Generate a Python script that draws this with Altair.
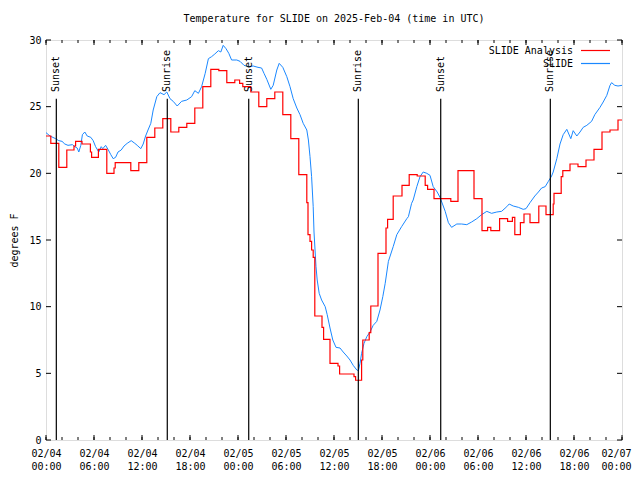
import altair as alt
import pandas as pd

MONO = "DejaVu Sans Mono"

# ---- data (hours since 2025-02-04 00:00 UTC) ----
red_hours = [0.0, 0.6, 1.6, 2.6, 3.5, 3.7, 4.5, 5.55, 5.7, 6.55, 7.6, 8.5, 8.65, 10.6, 11.6,
             12.6, 13.6, 14.6, 15.6, 16.6, 17.6, 18.6, 19.6, 20.6, 21.6, 22.6, 23.6, 24.2, 24.6,
             25.6, 26.6, 27.6, 28.6, 29.6, 30.6, 31.6, 32.6, 32.75, 33.0, 33.2, 33.4, 33.6, 34.5,
             34.7, 35.5, 36.5, 36.7, 38.5, 38.7, 39.45, 39.6, 40.4, 40.6, 41.5, 42.5, 42.7, 43.4,
             44.5, 45.4, 46.4, 47.4, 47.7, 48.5, 50.6, 51.5, 53.5, 54.5, 55.2, 55.6, 56.7, 57.7,
             58.3, 58.6, 59.3, 59.75, 60.5, 61.6, 62.5, 63.4, 63.5, 64.4, 64.6, 65.5, 66.5, 67.5,
             68.5, 69.5, 70.5, 71.5, 72.0]
red_temps = [22.8, 22.25, 20.45, 21.75, 22.05, 22.4, 22.2, 21.6, 21.2, 21.8, 20.0, 20.4, 20.8, 20.2, 20.8,
             22.7, 23.4, 24.1, 23.1, 23.45, 23.75, 24.9, 26.5, 27.8, 27.7, 26.8, 27.0, 26.75, 26.5,
             26.1, 25.0, 25.6, 26.1, 24.4, 22.6, 19.9, 17.8, 15.4, 14.9, 14.25, 13.7, 9.3, 8.45,
             7.55, 5.75, 5.55, 4.95, 4.75, 4.48, 6.0, 7.5, 8.05, 10.05, 14.0, 15.9, 16.55, 18.3,
             19.1, 19.9, 19.8, 19.1, 18.8, 18.1, 17.9, 20.2, 18.1, 15.7, 15.95, 15.7, 16.6, 16.4,
             16.7, 15.4, 16.3, 16.95, 16.3, 17.55, 16.9, 17.7, 18.5, 19.75, 20.2, 20.7, 20.5, 21.0,
             21.8, 23.1, 23.25, 24.0, 24.0]

blue_hours = [0.0, 0.5, 1.2, 1.6, 2.0, 2.35, 2.75, 3.3, 3.6, 3.9, 4.1, 4.35, 4.55, 4.85, 5.15, 5.6,
              5.9, 6.2, 6.6, 6.9, 7.1, 7.45, 7.75, 8.1, 8.4, 8.7, 9.0, 9.4, 9.75, 10.15, 10.65, 11.1,
              11.4, 11.85, 12.15, 12.45, 12.75, 13.1, 13.4, 13.85, 14.25, 14.75, 15.1, 15.5, 15.9,
              16.4, 16.95, 17.6, 18.2, 18.6, 19.05, 19.45, 19.9, 20.3, 20.7, 21.1, 21.55, 21.85,
              22.15, 22.5, 22.85, 23.2, 23.85, 24.25, 24.75, 25.3, 25.9, 26.5, 26.95, 27.25, 27.6,
              28.1, 28.4, 28.85, 29.15, 29.6, 30.1, 30.5, 30.9, 31.35, 31.75, 32.15, 32.6, 32.8,
              33.0, 33.2, 33.4, 33.5, 33.75, 33.9, 34.15, 34.45, 34.9, 35.15, 35.5, 35.85, 36.25,
              36.75, 37.15, 37.6, 38.0, 38.4, 38.85, 39.05, 39.25, 39.45, 39.75, 40.1, 40.5, 40.9,
              41.35, 41.75, 42.1, 42.4, 42.8, 43.4, 43.85, 44.45, 45.1, 45.3, 45.7, 45.9, 46.35,
              46.75, 47.15, 47.6, 48.0, 48.4, 48.9, 49.25, 49.9, 50.3, 50.7, 51.35, 51.95, 52.6,
              53.2, 53.85, 54.45, 55.1, 55.7, 56.35, 56.95, 57.6, 57.9, 58.4, 59.05, 59.65, 60.0,
              60.5, 61.1, 61.55, 61.95, 62.4, 62.8, 63.2, 63.4, 63.85, 64.25, 64.65, 65.1, 65.6,
              65.9, 66.35, 66.75, 67.15, 67.6, 68.2, 68.6, 69.25, 69.65, 70.1, 70.5, 70.7, 71.1,
              71.5, 72.0]
blue_temps = [23.05, 22.8, 22.6, 22.45, 22.4, 22.2, 22.1, 22.15, 22.0, 21.9, 21.6, 22.1, 22.9, 23.1,
              22.8, 22.7, 22.45, 22.0, 21.6, 22.0, 21.85, 22.1, 21.8, 21.4, 21.1, 21.2, 21.6, 21.75,
              22.05, 22.25, 22.45, 22.25, 22.1, 21.85, 22.2, 22.8, 23.25, 23.75, 24.75, 25.75, 26.05,
              25.9, 26.1, 25.6, 25.4, 25.05, 25.4, 25.5, 25.75, 26.2, 26.0, 26.5, 27.5, 28.6, 28.75,
              28.95, 29.2, 29.1, 29.6, 29.35, 29.0, 28.5, 28.5, 28.4, 28.1, 28.0, 28.05, 27.95, 27.9,
              27.5, 27.05, 26.3, 26.6, 27.75, 28.25, 27.95, 27.25, 26.5, 25.6, 24.9, 24.4, 23.75,
              23.25, 22.5, 21.25, 19.75, 17.5, 15.6, 13.0, 12.0, 11.0, 10.5, 10.0, 9.4, 8.4, 7.5,
              6.95, 6.9, 6.6, 6.3, 6.0, 5.6, 5.25, 5.2, 5.75, 6.5, 7.25, 7.75, 8.1, 8.6, 8.9, 9.75,
              10.75, 11.75, 13.4, 14.5, 15.4, 16.0, 16.6, 16.75, 17.75, 18.0, 19.0, 19.75, 20.1,
              20.0, 19.85, 19.0, 18.6, 18.2, 17.15, 16.3, 15.95, 16.2, 16.2, 16.15, 16.35, 16.6,
              16.9, 17.15, 17.0, 17.1, 17.15, 17.5, 17.7, 17.55, 17.45, 17.3, 17.35, 17.8, 18.3,
              18.6, 18.9, 19.0, 19.4, 19.8, 20.1, 21.1, 22.2, 22.9, 23.3, 22.6, 23.2, 22.8, 23.1,
              23.45, 23.6, 23.9, 24.4, 24.95, 25.35, 25.85, 26.6, 26.8, 26.6, 26.55, 26.6]

sun_hours = [1.29, 15.16, 25.34, 39.04, 49.34, 63.04]
sun_labels = ["Sunset", "Sunrise", "Sunset", "Sunrise", "Sunset", "Sunrise"]

x_label_hours = list(range(0, 73, 6))
x_minor_hours = list(range(0, 73, 2))
y_tick_values = [0, 5, 10, 15, 20, 25, 30]
legend_labels = ["SLIDE Analysis", "SLIDE"]
series_colors = ["#ff0000", "#1a88ff"]

red_df = pd.DataFrame({"hour": red_hours, "temp": red_temps})
blue_df = pd.DataFrame({"hour": blue_hours, "temp": blue_temps})
sun_df = pd.DataFrame({"hour": sun_hours, "label": sun_labels})
xmaj_df = pd.DataFrame({"hour": x_label_hours})
xmin_df = pd.DataFrame({"hour": x_minor_hours})
ytick_df = pd.DataFrame({"temp": y_tick_values})

W, H = 576, 400

xscale = alt.Scale(domain=[0, 72], nice=False, zero=False)
yscale = alt.Scale(domain=[0, 30], nice=False, zero=False)

x_axis = alt.Axis(
    values=x_label_hours,
    labelExpr="['02/0' + (4 + floor(datum.value / 24)), ((datum.value % 24) < 10 ? '0' : '') + (datum.value % 24) + ':00']",
    title=None, ticks=False, domain=False, grid=False,
    labelPadding=8, labelLineHeight=13, labelFont=MONO, labelFontSize=10,
    labelColor="black", labelFlush=False, labelOverlap=False,
    labelOffset={"condition": {"test": "datum.value == 72", "value": -6}, "value": 0},
)
y_axis = alt.Axis(
    values=y_tick_values, title="degrees F", ticks=False, domain=False, grid=False,
    labelPadding=5, labelFont=MONO, labelFontSize=10, labelColor="black",
    titleFont=MONO, titleFontSize=10, titleFontWeight="normal", titleColor="black",
    titleX=-32, titleY=200, titleAngle=270, titleAlign="center", titleBaseline="middle",
)

def X(field):
    return alt.X(field, scale=xscale, axis=x_axis)

def Y(field):
    return alt.Y(field, scale=yscale, axis=y_axis)

def XD(v):
    return alt.XDatum(v, scale=xscale, axis=x_axis, type="quantitative")

def YD(v):
    return alt.YDatum(v, scale=yscale, axis=y_axis, type="quantitative")

blue = alt.Chart(blue_df).mark_line(color=series_colors[1], strokeWidth=1, clip=True).encode(
    x=X("hour:Q"), y=Y("temp:Q"))
red = alt.Chart(red_df).mark_line(color=series_colors[0], strokeWidth=1.2, interpolate="step-after",
                                  clip=True).encode(x=X("hour:Q"), y=Y("temp:Q"))

sun_rules = alt.Chart(sun_df).mark_rule(color="black", strokeWidth=1.2).encode(
    x=X("hour:Q"), y=YD(0), y2=alt.Y2Datum(25.6))
sun_text = alt.Chart(sun_df).mark_text(angle=270, align="left", baseline="middle",
                                        font=MONO, fontSize=10, color="black").encode(
    x=X("hour:Q"), y=YD(26.1), text="label:N")

# inward tick marks (gnuplot style), drawn from the tick lists
def xticks(df, at_top, length):
    if at_top:
        return alt.Chart(df).mark_rule(color="black", strokeWidth=1).encode(
            x=X("hour:Q"), y=alt.value(0), y2=alt.value(length))
    return alt.Chart(df).mark_rule(color="black", strokeWidth=1).encode(
        x=X("hour:Q"), y=alt.value(H), y2=alt.value(H - length))

def yticks(at_right, length):
    if at_right:
        return alt.Chart(ytick_df).mark_rule(color="black", strokeWidth=1).encode(
            y=Y("temp:Q"), x=alt.value(W), x2=alt.value(W - length))
    return alt.Chart(ytick_df).mark_rule(color="black", strokeWidth=1).encode(
        y=Y("temp:Q"), x=alt.value(0), x2=alt.value(length))

tick_layers = [xticks(xmin_df, False, 3), xticks(xmin_df, True, 3), xticks(xmaj_df, False, 5),
               xticks(xmaj_df, True, 5), yticks(False, 5), yticks(True, 5)]

one = pd.DataFrame({"k": [0]})
leg_layers = []
for i, (lab, col) in enumerate(zip(legend_labels, series_colors)):
    ypix = 10.5 + 13 * i
    leg_layers.append(alt.Chart(one).mark_text(text=lab, align="right", baseline="middle",
                                               font=MONO, fontSize=10, color="black").encode(
        x=alt.value(527), y=alt.value(ypix)))
    leg_layers.append(alt.Chart(one).mark_rule(color=col, strokeWidth=1.2).encode(
        x=alt.value(535), x2=alt.value(564), y=alt.value(ypix)))

chart = alt.layer(blue, red, sun_rules, sun_text, *tick_layers, *leg_layers).properties(
    width=W, height=H,
    autosize=alt.AutoSizeParams(type="none"),
    padding={"left": 38, "top": 32, "right": 10, "bottom": 30},
    title=alt.TitleParams(text="Temperature for SLIDE on 2025-Feb-04 (time in UTC)", font=MONO,
                          fontSize=10, fontWeight="normal", color="black", anchor="middle", offset=11),
).configure_view(stroke="black", strokeWidth=1).configure(background="white")

chart.save("out.html", embed_options={"renderer": "svg", "actions": False})
